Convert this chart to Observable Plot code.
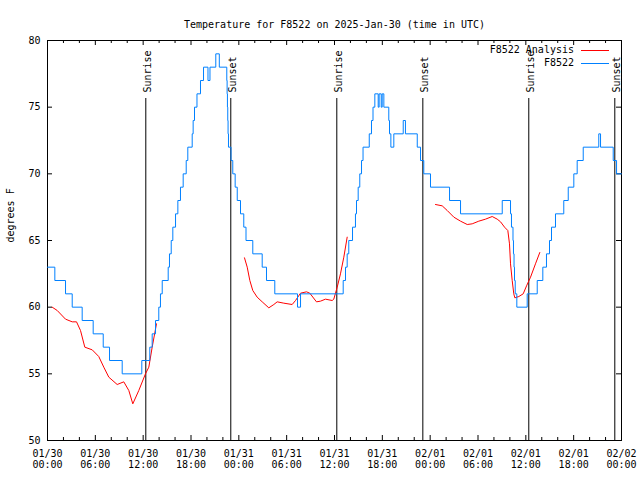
<!DOCTYPE html>
<html>
<head>
<meta charset="utf-8">
<script src="https://cdn.jsdelivr.net/npm/d3@7"></script>
<script src="https://cdn.jsdelivr.net/npm/@observablehq/plot@0.6"></script>
<style>
  html, body { margin: 0; padding: 0; background: white; }
  #wrap { position: relative; width: 640px; height: 480px; }
  #legend { position: absolute; left: 0; top: 0; pointer-events: none; }
</style>
</head>
<body>
<div id="wrap"></div>
<script>
// ---- data (hours after 2025-01-30 00:00 UTC) ----
const titleText = "Temperature for F8522 on 2025-Jan-30 (time in UTC)";
const yLabel = "degrees F";
const yTicks = [50, 55, 60, 65, 70, 75, 80];

// Observed F8522 temperature (value holds from each time until the next)
const blueHours = [0, 0.92, 2.26, 3.10, 4.35, 5.73, 6.99, 7.78, 9.37, 11.83, 12.83, 13.13, 13.55, 13.96, 14.17, 14.39, 15.14, 15.30, 15.52, 15.72, 16.06, 16.35, 16.68, 17.02, 17.40, 17.60, 18.15, 18.27, 18.44, 18.75, 19.19, 19.57, 20.13, 20.38, 21.11, 21.55, 22.49, 22.53, 22.57, 22.61, 22.65, 22.70, 23.02, 23.24, 23.54, 23.80, 24.21, 24.62, 24.90, 25.75, 26.93, 27.47, 28.51, 31.36, 31.74, 37.09, 37.38, 37.59, 37.79, 38.26, 38.63, 38.76, 38.97, 39.17, 39.39, 39.58, 40.36, 40.64, 40.83, 41.06, 41.48, 41.60, 41.86, 41.98, 42.19, 42.81, 42.90, 43.07, 43.44, 44.62, 44.90, 46.38, 46.79, 47.20, 48.04, 50.43, 51.81, 57.04, 58.08, 58.20, 58.39, 58.45, 58.52, 58.58, 58.67, 58.87, 60.17, 61.43, 62.13, 62.59, 62.97, 63.22, 63.72, 64.76, 65.32, 66.02, 66.44, 67.20, 69.15, 69.37, 70.96, 71.38, 72.0];
const blueTemps = [63, 62, 61, 60, 59, 58, 57, 56, 55, 56, 57, 58, 59, 60, 61, 62, 63, 64, 65, 66, 67, 68, 69, 70, 71, 72, 73, 74, 75, 76, 77, 78, 77, 78, 79, 78, 77, 76, 75, 74, 73, 72, 71, 70, 69, 68, 67, 66, 65, 64, 63, 62, 61, 60, 61, 62, 63, 64, 65, 66, 67, 68, 69, 70, 71, 72, 73, 74, 75, 76, 75, 76, 75, 76, 75, 74, 73, 72, 73, 74, 73, 72, 71, 70, 69, 68, 67, 68, 67, 66, 65, 64, 63, 62, 61, 60, 61, 62, 63, 64, 65, 66, 67, 68, 69, 70, 71, 72, 73, 72, 71, 70, 70];

// Analysis (three separate runs)
const redHours1 = [0.59, 1.22, 2.26, 3.10, 3.64, 4.14, 4.68, 5.61, 6.43, 7.06, 7.69, 8.74, 9.57, 10.20, 10.70, 11.45, 12.29, 12.71, 13.13, 13.67];
const redTemps1 = [60.0, 59.75, 59.1, 58.9, 58.9, 58.25, 57.0, 56.8, 56.3, 55.5, 54.75, 54.2, 54.4, 53.75, 52.75, 53.75, 55.0, 55.5, 57.0, 58.75];
const redHours2 = [24.71, 25.05, 25.38, 25.75, 26.30, 26.93, 27.76, 28.39, 28.81, 29.64, 30.69, 31.11, 31.74, 32.49, 32.90, 33.74, 34.24, 34.87, 35.71, 35.91, 36.34, 36.75, 37.17, 37.59];
const redTemps2 = [63.7, 63.0, 62.0, 61.25, 60.75, 60.4, 59.95, 60.2, 60.4, 60.3, 60.2, 60.5, 61.05, 61.15, 61.05, 60.4, 60.45, 60.6, 60.5, 60.6, 61.5, 62.5, 63.75, 65.25];
const redHours3 = [48.67, 49.51, 50.14, 50.97, 51.81, 52.65, 53.27, 54.10, 54.94, 55.78, 56.41, 56.83, 57.33, 57.74, 57.95, 58.08, 58.29, 58.49, 58.62, 59.12, 59.67, 60.09, 60.59, 61.21, 61.75];
const redTemps3 = [67.7, 67.6, 67.25, 66.75, 66.45, 66.2, 66.25, 66.45, 66.6, 66.8, 66.6, 66.4, 66.0, 65.75, 64.75, 63.25, 62.0, 61.0, 60.7, 60.8, 61.0, 61.6, 62.25, 63.25, 64.1];

// Sun events
const sunHours = [12.33, 22.99, 36.29, 47.08, 60.37, 71.16];
const sunLabels = ["Sunrise", "Sunset", "Sunrise", "Sunset", "Sunrise", "Sunset"];

// Legend
const legendLabels = ["F8522 Analysis", "F8522"];
const legendColors = ["#ff0000", "#0080ff"];

// ---- build ----
const t0 = Date.UTC(2025, 0, 30);
const toDate = h => new Date(t0 + h * 3600e3);
const blue = blueHours.map((h, i) => ({t: toDate(h), v: blueTemps[i]}));
const red = [
  ...redHours1.map((h, i) => ({t: toDate(h), v: redTemps1[i], run: 1})),
  ...redHours2.map((h, i) => ({t: toDate(h), v: redTemps2[i], run: 2})),
  ...redHours3.map((h, i) => ({t: toDate(h), v: redTemps3[i], run: 3}))
];
const sun = sunHours.map((h, i) => ({t: toDate(h), label: sunLabels[i]}));

const domainX = [toDate(0), toDate(72)];
const major = d3.utcHour.every(6).range(domainX[0], new Date(+domainX[1] + 1));
const minor = d3.utcHour.every(2).range(domainX[0], new Date(+domainX[1] + 1)).filter(d => d.getUTCHours() % 6 !== 0);

const W = 640, H = 480, mL = 47, mR = 19, mT = 40, mB = 40;
const pw = W - mL - mR, ph = H - mT - mB;

const chart = Plot.plot({
  width: W, height: H,
  marginLeft: mL, marginRight: mR, marginTop: mT, marginBottom: mB,
  style: {fontFamily: "DejaVu Sans Mono", fontSize: "10px", background: "white", color: "black"},
  x: {type: "utc", domain: domainX},
  y: {domain: [50, 80]},
  marks: [
    Plot.frame({stroke: "black"}),
    // inward ticks
    Plot.ruleX(major, {x: d => d, insetTop: ph - 5, stroke: "black"}),
    Plot.ruleX(major, {x: d => d, insetBottom: ph - 5, stroke: "black"}),
    Plot.ruleX(minor, {x: d => d, insetTop: ph - 3, stroke: "black"}),
    Plot.ruleX(minor, {x: d => d, insetBottom: ph - 3, stroke: "black"}),
    Plot.ruleY(yTicks, {y: d => d, insetRight: pw - 5, stroke: "black"}),
    Plot.ruleY(yTicks, {y: d => d, insetLeft: pw - 5, stroke: "black"}),
    Plot.axisX(major, {tickSize: 0, tickPadding: 9, tickFormat: d3.utcFormat("%m/%d\n%H:%M"), label: null, lineHeight: 1.1, fontSize: 10}),
    Plot.axisY(yTicks, {tickSize: 0, tickPadding: 7, label: null, fontSize: 10}),
    // sun events
    Plot.ruleX(sun, {x: "t", insetTop: 58, stroke: "black"}),
    Plot.text(sun, {x: "t", text: "label", frameAnchor: "top", rotate: -90, textAnchor: "start", dy: 52, dx: -2, fill: "black"}),
    // series
    Plot.line(red, {x: "t", y: "v", z: "run", stroke: "#ff0000", strokeWidth: 1}),
    Plot.line(blue, {x: "t", y: "v", curve: "step-after", stroke: "#0080ff", strokeWidth: 1}),
    // title and y label
    Plot.text([titleText], {frameAnchor: "top", dy: -20, fill: "black"}),
    Plot.text([yLabel], {frameAnchor: "left", rotate: -90, dx: -37, dy: 2, fill: "black"})
  ]
});

const wrap = document.getElementById("wrap");
wrap.appendChild(chart);

// legend overlay (top right, inside plot)
const leg = d3.select(wrap).append("svg").attr("id", "legend").attr("width", W).attr("height", H)
  .style("font-family", "DejaVu Sans Mono").style("font-size", "10px");
legendLabels.forEach((lab, i) => {
  const y = 50 + i * 13;
  leg.append("text").attr("x", 574).attr("y", y).attr("dy", "0.32em").attr("text-anchor", "end").attr("fill", "black").text(lab);
  leg.append("line").attr("x1", 581).attr("x2", 609).attr("y1", y + 0.5).attr("y2", y + 0.5).attr("stroke", legendColors[i]).attr("stroke-width", 1);
});
</script>
</body>
</html>
